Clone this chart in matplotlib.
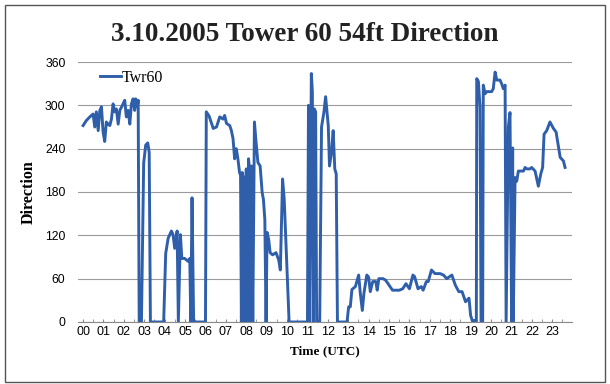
import matplotlib
matplotlib.use("Agg")
import matplotlib.pyplot as plt
from matplotlib.patches import Rectangle

# Datos (hora UTC, direccion en grados)
hours = [
    0.0, 0.16, 0.33, 0.49, 0.57, 0.65, 0.74, 0.82, 0.9, 0.98, 1.06, 1.14, 1.23, 1.31, 1.39, 1.47,
    1.55, 1.63, 1.72, 1.8, 1.96, 2.04, 2.12, 2.21, 2.29, 2.37, 2.45, 2.53, 2.58, 2.65, 2.7,
    2.75, 2.86, 2.97, 3.07, 3.17, 3.24, 3.3, 3.95,
    4.05, 4.17, 4.33, 4.41, 4.49, 4.61, 4.67, 4.77, 4.84, 4.98, 5.15, 5.23, 5.28, 5.34, 5.42, 6.0,
    6.04, 6.18, 6.38, 6.54, 6.7, 6.86, 6.94, 7.03, 7.19, 7.27, 7.35, 7.43, 7.51, 7.59, 7.67, 7.72,
    7.76, 7.8, 7.87, 7.93, 8.0, 8.05, 8.11, 8.16, 8.21, 8.26, 8.32, 8.4, 8.48, 8.57, 8.68, 8.78,
    8.84, 8.91, 8.97,
    9.02, 9.1, 9.17, 9.29, 9.46, 9.59, 9.67, 9.78, 9.86, 10.1, 11.0,
    11.05, 11.11, 11.19, 11.24, 11.29, 11.34, 11.4, 11.45, 11.6, 11.69, 11.81, 11.89, 12.02, 12.08,
    12.18, 12.26, 12.34, 12.41, 12.47, 12.94,
    13.02, 13.1, 13.18, 13.35, 13.51, 13.59, 13.69, 13.77, 13.91, 14.0, 14.08, 14.2, 14.35, 14.42,
    14.5, 14.7, 14.83, 15.0, 15.17, 15.33, 15.5, 15.67, 15.83, 16.0, 16.17, 16.25, 16.42, 16.58,
    16.67, 16.83, 16.92, 17.08, 17.25, 17.5, 17.67, 17.83, 18.08, 18.25, 18.42, 18.58, 18.75,
    18.92, 19.0, 19.08, 19.2, 19.28,
    19.3, 19.38, 19.46, 19.51, 19.59, 19.62, 19.71, 19.79, 19.95, 20.03, 20.11, 20.2, 20.28, 20.44,
    20.52, 20.6, 20.69, 20.74, 20.85, 20.93, 21.01, 21.06, 21.09, 21.18, 21.26, 21.34, 21.59, 21.67,
    21.75, 21.91, 21.99, 22.16, 22.32, 22.44, 22.53, 22.6, 22.73, 22.89, 23.06, 23.19, 23.31, 23.39,
    23.55, 23.63,
]
direction = [
    272, 279, 284, 288, 270, 291, 265, 293, 298, 263, 250, 277, 274, 272, 281, 302,
    291, 295, 274, 293, 302, 307, 284, 293, 274, 302, 309, 293, 309, 298, 307,
    0, 0, 220, 245, 248, 235, 0, 0,
    95, 116, 126, 121, 102, 126, 0, 121, 88, 88, 84, 88, 0, 172, 0, 0,
    291, 285, 268, 270, 284, 281, 286, 275, 272, 265, 254, 226, 240, 226, 207, 203,
    0, 207, 198, 0, 212, 0, 226, 212, 0, 216, 0, 277, 249, 221, 216, 179,
    170, 142, 0,
    124, 114, 96, 93, 96, 86, 72, 198, 170, 0, 0,
    300, 0, 344, 319, 0, 295, 291, 0, 0, 270, 291, 312, 272, 216,
    235, 265, 212, 205, 0, 0,
    21, 21, 45, 49, 65, 40, 16, 40, 65, 62, 42, 56, 56, 44,
    60, 60, 58, 51, 44, 44, 44, 46, 53, 46, 65, 63, 46, 49,
    44, 56, 56, 72, 67, 67, 65, 60, 65, 51, 42, 42, 28,
    33, 9, 2, 2, 0,
    337, 333, 298, 0, 0, 328, 316, 319, 319, 319, 323, 346, 335, 335,
    330, 323, 328, 0, 270, 290, 0, 241, 0, 200, 195, 209, 209, 214,
    212, 212, 214, 209, 188, 205, 214, 260, 265, 277, 268, 263, 242, 228,
    223, 214,
]
tick_labels = ["%02d" % h for h in range(24)]
y_ticks = [0, 60, 120, 180, 240, 300, 360]

fig = plt.figure(figsize=(6.10, 3.84), dpi=100)
ax = fig.add_axes([78 / 610, 0.1615, 494 / 610, 0.677])

ax.plot(hours, direction, color="#2f5fab", linewidth=2.1, label="Twr60")

ax.set_xlim(-0.25, 23.97)
ax.set_ylim(0, 360)
ax.set_yticks(y_ticks)
ax.set_xticks(range(24))
ax.set_xticklabels(tick_labels)
ax.set_xticks([h + 0.5 for h in range(24)], minor=True)
ax.grid(axis="y", color="#9a9a9a", linewidth=0.8)
ax.set_axisbelow(True)

for side in ["top", "right", "left"]:
    ax.spines[side].set_visible(False)
ax.spines["bottom"].set_color("#8a8a8a")
ax.tick_params(axis="y", length=0, labelsize=8.8, pad=9, labelfontfamily="Liberation Sans")
ax.tick_params(axis="x", which="both", direction="in", length=2.5, color="#8a8a8a",
               labelsize=9, pad=3, labelfontfamily="Liberation Sans")

ax.set_ylabel("Direction", fontsize=11.5, fontweight="bold", family="Liberation Serif", labelpad=6)
ax.set_xlabel("Time (UTC)", fontsize=9.5, fontweight="bold", family="Liberation Serif", labelpad=5)

fig.text(0.5, 0.911, "3.10.2005 Tower 60 54ft Direction", ha="center", va="center",
         fontsize=19.5, fontweight="bold", family="Liberation Serif", color="#222222")

ax.legend(loc="upper left", bbox_to_anchor=(0.015, 1.025), frameon=False, handlelength=1.3,
          handletextpad=0.05, prop={"family": "Liberation Serif", "size": 11.5})

# Marco exterior del grafico
fig.patches.append(Rectangle((5 / 610, 2 / 384), 600 / 610, 377 / 384, transform=fig.transFigure,
                             fill=False, edgecolor="#555555", linewidth=1.0))

fig.savefig("out.png", dpi=100)
